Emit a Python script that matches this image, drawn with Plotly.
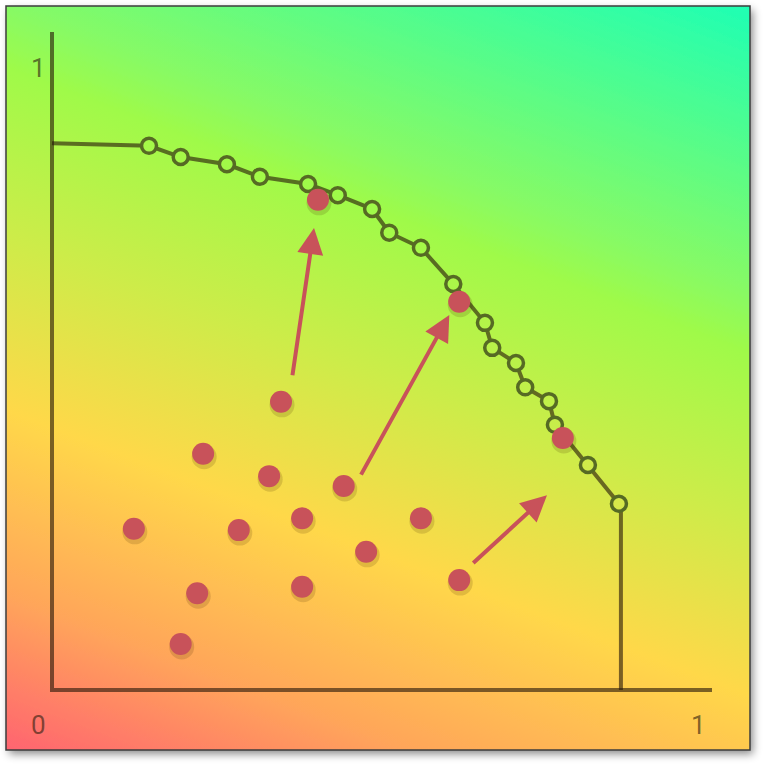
import base64
import plotly.graph_objects as go

# ---------------- data ----------------
front_x = [0.147, 0.195, 0.265, 0.315, 0.388, 0.433, 0.485, 0.511, 0.559, 0.608,
           0.656, 0.667, 0.703, 0.717, 0.753, 0.762, 0.812, 0.859]
front_y = [0.827, 0.810, 0.799, 0.780, 0.769, 0.752, 0.731, 0.695, 0.672, 0.617,
           0.558, 0.520, 0.497, 0.460, 0.439, 0.403, 0.342, 0.283]
front_start_y = 0.831
front_end_x = 0.862

pts_x = [0.403, 0.617, 0.774, 0.347, 0.229, 0.329, 0.442, 0.124, 0.283, 0.379,
         0.559, 0.476, 0.220, 0.379, 0.617, 0.195]
pts_y = [0.745, 0.590, 0.383, 0.438, 0.359, 0.325, 0.310, 0.245, 0.243, 0.261,
         0.261, 0.210, 0.147, 0.157, 0.167, 0.070]

arrow_from_x = [0.364, 0.467, 0.636]
arrow_from_y = [0.476, 0.325, 0.191]
arrow_to_x = [0.397, 0.602, 0.750]
arrow_to_y = [0.702, 0.570, 0.296]

tick_labels = ["0", "1", "1"]
tick_label_x = [-0.021, -0.021, 0.979]
tick_label_y = [-0.053, 0.945, -0.053]

# ---------------- geometry ----------------
W = H = 768
X0PX, X1PX = 52, 712      # pixel of x=0 and x=1
Y0PX, Y1PX = 690, 32      # pixel of y=0 and y=1
PW, PH = X1PX - X0PX, Y0PX - Y1PX
xr = [-X0PX / PW, (W - X0PX) / PW]
yr = [-(H - Y0PX) / PH, Y0PX / PH]

stops = [(0.0, (255, 100, 112)), (0.15, (255, 165, 90)), (0.33, (255, 216, 74)),
         (0.5, (205, 236, 74)), (0.66, (160, 250, 72)), (0.72, (136, 250, 100)),
         (1.0, (30, 255, 180))]
ux, uy = 0.358, -0.934
TL = 961.0


def grad_color(px, py):
    t = (ux * (px - 6) + uy * (py - 750)) / TL
    t = min(max(t, 0), 1)
    for (f0, c0), (f1, c1) in zip(stops[:-1], stops[1:]):
        if f0 <= t <= f1:
            a = (t - f0) / (f1 - f0)
            c = [round(c0[i] + a * (c1[i] - c0[i])) for i in range(3)]
            return "rgb(%d,%d,%d)" % tuple(c)
    return "rgb(%d,%d,%d)" % stops[-1][1]


stop_svg = "".join(
    '<stop offset="%.3f" stop-color="rgb(%d,%d,%d)"/>' % (f, *c) for f, c in stops)
svg = (
    '<svg xmlns="http://www.w3.org/2000/svg" width="768" height="768" viewBox="0 0 768 768">'
    '<defs><linearGradient id="g" gradientUnits="userSpaceOnUse" x1="6" y1="750" '
    'x2="%.1f" y2="%.1f">%s</linearGradient>'
    '<filter id="s" x="-5%%" y="-5%%" width="115%%" height="115%%">'
    '<feDropShadow dx="3" dy="4" stdDeviation="4" flood-color="#000" flood-opacity="0.45"/>'
    '</filter></defs>'
    '<rect x="0" y="0" width="768" height="768" fill="#ffffff"/>'
    '<rect x="6" y="6" width="744" height="744" fill="url(#g)" filter="url(#s)"/>'
    '<rect x="6" y="6" width="744" height="744" fill="none" stroke="#3c3c3c" stroke-width="1.5"/>'
    '</svg>'
) % (6 + ux * TL, 750 + uy * TL, stop_svg)
svg_uri = "data:image/svg+xml;base64," + base64.b64encode(svg.encode()).decode()

line_col = "rgba(40,25,10,0.62)"
red = "#c8525a"

fig = go.Figure()

# axes lines
fig.add_trace(go.Scatter(x=[0, 0, 1], y=[1, 0, 0], mode="lines",
                         line=dict(color=line_col, width=4), hoverinfo="skip"))

# pareto front line
fx = [0.0] + front_x + [front_end_x, front_end_x]
fy = [front_start_y] + front_y + [front_y[-1], 0.0]
fig.add_trace(go.Scatter(x=fx, y=fy, mode="lines",
                         line=dict(color=line_col, width=4), hoverinfo="skip"))

# circle markers, filled with the background colour underneath
fills = [grad_color(X0PX + PW * x, Y0PX - PH * y) for x, y in zip(front_x, front_y)]
fig.add_trace(go.Scatter(x=front_x, y=front_y, mode="markers",
                         marker=dict(size=15, color=fills,
                                     line=dict(color="rgb(86,106,36)", width=3.5))))

# red point shadows + points
sx = [x + 1.0 / PW for x in pts_x]
sy = [y - 3.0 / PH for y in pts_y]
fig.add_trace(go.Scatter(x=sx, y=sy, mode="markers",
                         marker=dict(size=25, color="rgba(70,40,0,0.16)", line=dict(width=0))))
fig.add_trace(go.Scatter(x=pts_x, y=pts_y, mode="markers",
                         marker=dict(size=22, color=red, line=dict(width=0))))

for x0, y0, x1, y1 in zip(arrow_from_x, arrow_from_y, arrow_to_x, arrow_to_y):
    fig.add_annotation(x=x1, y=y1, ax=x0, ay=y0, xref="x", yref="y", axref="x", ayref="y",
                       showarrow=True, arrowhead=2, arrowsize=1.3, arrowwidth=4,
                       arrowcolor=red, text="", standoff=0, startstandoff=0)

lab_font = dict(family="Roboto", size=26, color="rgba(45,30,15,0.62)")
for txt, lx, ly in zip(tick_labels, tick_label_x, tick_label_y):
    fig.add_annotation(x=lx, y=ly, xref="x", yref="y", text=txt, showarrow=False,
                       font=lab_font, xanchor="center", yanchor="middle")

fig.add_layout_image(dict(source=svg_uri, xref="paper", yref="paper",
                          x=0, y=1, sizex=1, sizey=1,
                          xanchor="left", yanchor="top", sizing="stretch",
                          layer="below"))

fig.update_layout(width=W, height=H, margin=dict(l=0, r=0, t=0, b=0, pad=0),
                  showlegend=False, paper_bgcolor="white", plot_bgcolor="rgba(0,0,0,0)",
                  xaxis=dict(range=xr, visible=False, fixedrange=True),
                  yaxis=dict(range=yr, visible=False, fixedrange=True))

fig.write_html("out.html", config={"displayModeBar": False},
               post_script="document.body.style.margin='0';")
